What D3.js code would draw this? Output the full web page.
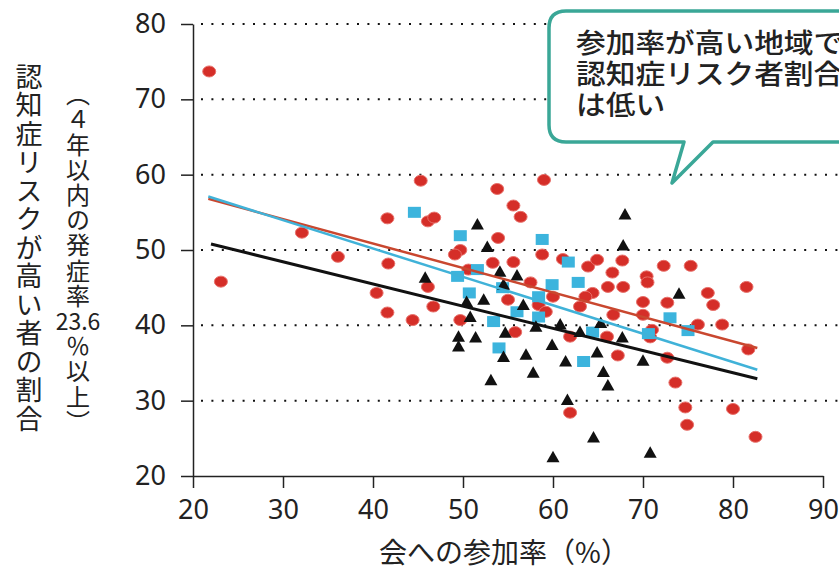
<!DOCTYPE html>
<html>
<head>
<meta charset="utf-8">
<script src="https://cdn.jsdelivr.net/npm/d3@7"></script>
<style>
body { margin: 0; background: #fff; }
svg text { font-family: "Noto Sans CJK JP", "Noto Sans", sans-serif; fill: #222; }
</style>
</head>
<body>
<div id="chart"></div>
<script>

// 目盛り
var xTicks = [20, 30, 40, 50, 60, 70, 80, 90];
var yTicks = [20, 30, 40, 50, 60, 70, 80];
var gridValues = [30, 40, 50, 60, 70, 80];

// ラベル
var xTitle = "会への参加率（%）";
var yTitle = "認知症リスクが高い者の割合";
var ySubTitle = ["（４年以内の発症率", "23.6", "％以上）"];
var bubbleLines = ["参加率が高い地域で", "認知症リスク者割合", "は低い"];

// 赤丸 [参加率, 割合]
var redPoints = [
	[21.8, 73.7], [23.1, 45.8], [32.1, 52.3], [36.1, 49.1], [41.6, 54.2], [41.7, 48.2],
	[40.4, 44.3], [41.6, 41.7], [44.4, 40.7], [45.3, 59.2], [46.1, 53.8], [46.8, 54.3],
	[46.1, 45.1], [46.7, 42.5], [49.7, 50.0], [49.1, 49.4], [49.7, 40.7], [53.8, 58.1],
	[55.6, 55.9], [56.4, 54.4], [53.9, 51.6], [53.3, 48.3], [55.6, 48.4], [58.8, 49.4],
	[59.0, 59.3], [55.0, 43.4], [58.4, 42.7], [55.8, 39.1], [57.5, 45.7], [59.2, 41.8],
	[61.9, 38.5], [50.6, 47.4], [61.9, 28.4], [63.9, 47.8], [64.9, 48.7], [67.7, 48.6],
	[66.6, 47.0], [66.1, 45.1], [70.4, 46.5], [70.5, 45.7], [72.3, 47.9], [75.3, 47.9],
	[77.2, 44.3], [70.0, 43.1], [72.7, 43.0], [64.4, 44.3], [63.6, 43.8], [70.0, 41.4],
	[66.7, 41.4], [71.0, 39.4], [70.8, 38.4], [76.1, 40.1], [78.8, 40.1], [77.8, 42.7],
	[81.5, 45.1], [67.2, 36.0], [66.0, 38.5], [81.7, 36.8], [73.6, 32.4], [74.7, 29.1],
	[80.0, 28.9], [74.9, 26.8], [82.5, 25.2], [72.7, 35.7], [63.0, 42.5], [60.0, 43.8],
	[61.1, 48.8], [67.8, 45.1]
];

// 水色四角
var cyanPoints = [
	[44.6, 55.0], [49.7, 51.9], [58.8, 51.4], [49.4, 46.5], [50.7, 44.3], [51.6, 47.4],
	[54.4, 45.0], [58.4, 43.8], [59.9, 45.4], [61.7, 48.4], [62.8, 45.7], [56.0, 41.8],
	[53.4, 40.5], [58.4, 41.1], [54.0, 37.0], [63.4, 35.2], [64.4, 39.1], [73.0, 41.0],
	[75.0, 39.3], [70.6, 38.9]
];

// 黒三角
var blackPoints = [
	[51.6, 53.4], [52.7, 50.4], [45.8, 46.3], [54.1, 47.1], [56.0, 46.6], [54.5, 45.4],
	[52.3, 43.4], [50.4, 43.1], [50.8, 41.1], [56.7, 42.7], [58.1, 39.8], [49.5, 38.5],
	[51.4, 38.4], [49.5, 37.2], [54.7, 39.0], [59.9, 37.4], [54.5, 35.8], [57.0, 36.1],
	[61.4, 35.2], [53.1, 32.7], [57.8, 33.7], [64.9, 36.4], [65.6, 33.8], [66.1, 32.0],
	[61.6, 30.1], [64.5, 25.1], [60.0, 22.5], [70.8, 23.1], [68.0, 54.7], [67.8, 50.6],
	[74.0, 44.2], [70.0, 35.3], [67.7, 38.4], [60.8, 40.1], [63.0, 39.1], [65.3, 40.3]
];

// 回帰直線
var redTrend = [[21.7, 56.8], [82.7, 37.0]];
var cyanTrend = [[21.7, 57.1], [82.7, 34.1]];
var blackTrend = [[22.0, 50.8], [82.7, 32.9]];

var W = 839, H = 572;

var svg = d3.select("#chart").append("svg")
	.attr("width", W)
	.attr("height", H);

var x = d3.scaleLinear().domain([20, 90]).range([193, 823]);
var y = d3.scaleLinear().domain([20, 80]).range([476, 24]);

// 点線グリッド
svg.selectAll(".grid")
	.data(gridValues)
	.enter().append("line")
	.attr("class", "grid")
	.attr("x1", x(20) + 8)
	.attr("x2", W)
	.attr("y1", function(d) { return y(d); })
	.attr("y2", function(d) { return y(d); })
	.style("stroke", "#111")
	.style("stroke-width", 2)
	.style("stroke-dasharray", "2,8.4");

// 軸
var gx = svg.append("g")
	.attr("transform", "translate(0," + y(20) + ")")
	.call(d3.axisBottom(x).tickValues(xTicks).tickSize(12).tickSizeOuter(0).tickPadding(12));

var gy = svg.append("g")
	.attr("transform", "translate(" + x(20) + ",0)")
	.call(d3.axisLeft(y).tickValues(yTicks).tickSize(12).tickSizeOuter(0).tickPadding(15));

[gx, gy].forEach(function(g) {
	g.selectAll("path, line").style("stroke", "#222").style("stroke-width", 1.5);
	g.selectAll("text")
		.style("font-size", "27px")
		.style("font-family", "'Noto Sans', sans-serif")
		.style("fill", "#222");
});

// 赤丸
svg.selectAll(".red")
	.data(redPoints)
	.enter().append("ellipse")
	.attr("class", "red")
	.attr("cx", function(d) { return x(d[0]); })
	.attr("cy", function(d) { return y(d[1]); })
	.attr("rx", 6.5)
	.attr("ry", 5.5)
	.style("fill", "#d52e28")
	.style("stroke", "#e8706a")
	.style("stroke-width", 1);

// 水色四角
svg.selectAll(".cyan")
	.data(cyanPoints)
	.enter().append("rect")
	.attr("class", "cyan")
	.attr("x", function(d) { return x(d[0]) - 6.5; })
	.attr("y", function(d) { return y(d[1]) - 5.5; })
	.attr("width", 13)
	.attr("height", 11)
	.style("fill", "#3cb4dd");

// 黒三角
svg.selectAll(".black")
	.data(blackPoints)
	.enter().append("path")
	.attr("class", "black")
	.attr("d", "M0,-6.5L6.5,5L-6.5,5Z")
	.attr("transform", function(d) { return "translate(" + x(d[0]) + "," + y(d[1]) + ")"; })
	.style("fill", "#111");

// 回帰直線
var line = d3.line()
	.x(function(d) { return x(d[0]); })
	.y(function(d) { return y(d[1]); });

[[redTrend, "#c9472f", 2.5], [cyanTrend, "#40b2d8", 2.5], [blackTrend, "#111", 3]].forEach(function(t) {
	svg.append("path")
		.attr("d", line(t[0]))
		.style("fill", "none")
		.style("stroke", t[1])
		.style("stroke-width", t[2]);
});

// 軸タイトル
svg.append("text")
	.attr("x", 504)
	.attr("y", 553)
	.attr("dy", "0.35em")
	.attr("text-anchor", "middle")
	.style("font-size", "28px")
	.text(xTitle);

// 縦書きラベル
function verticalLabel(str, cx, top, size, spacing) {
	svg.append("text")
		.attr("x", cx)
		.attr("y", top)
		.style("writing-mode", "vertical-rl")
		.style("font-size", size + "px")
		.style("letter-spacing", spacing + "px")
		.text(str);
}

verticalLabel(yTitle, 29, 63, 27, 1.5);

// 副題：前半と後半は縦書き、数字だけ横向き
verticalLabel(ySubTitle[0], 78, 82, 24, 1.2);
svg.append("text")
	.attr("x", 78)
	.attr("y", 322)
	.attr("dy", "0.35em")
	.attr("text-anchor", "middle")
	.style("font-size", "23px")
	.text(ySubTitle[1]);
verticalLabel(ySubTitle[2], 78, 334, 24, 1.2);

// 吹き出し
svg.append("path")
	.attr("d", "M566,11H870V142H713L672,183L684,142H566Q549,142 549,125V28Q549,11 566,11Z")
	.style("fill", "#fff")
	.style("stroke", "#3aa797")
	.style("stroke-width", 3.5)
	.style("stroke-linejoin", "round");

var bubbleText = svg.append("text")
	.attr("transform", "translate(576,44) scale(1.1,1)")
	.style("font-size", "27px")
	.style("font-weight", 500);

bubbleText.selectAll("tspan")
	.data(bubbleLines)
	.enter().append("tspan")
	.attr("x", 0)
	.attr("y", function(d, i) { return i * 31; })
	.attr("dy", "0.35em")
	.text(function(d) { return d; });

</script>
</body>
</html>
